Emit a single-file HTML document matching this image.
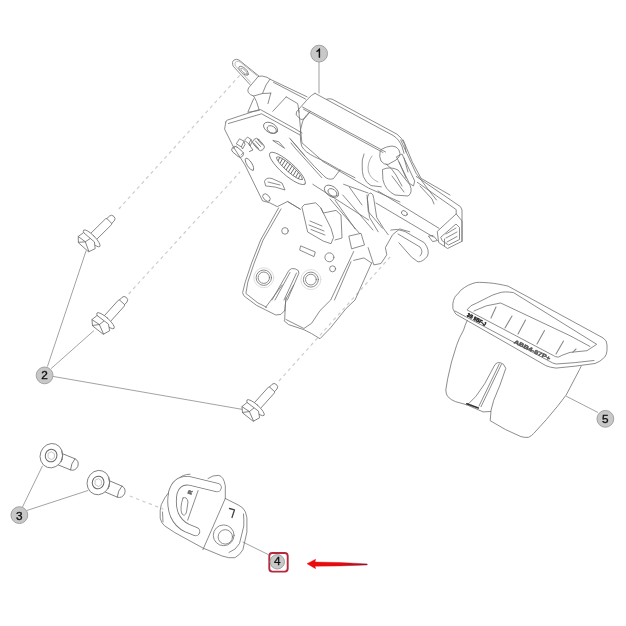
<!DOCTYPE html>
<html><head><meta charset="utf-8"><style>
html,body{margin:0;padding:0;background:#fff;width:626px;height:626px;overflow:hidden}
svg{display:block;will-change:transform}
.l{fill:none;stroke:#707070;stroke-width:0.8;stroke-linejoin:round;stroke-linecap:round}
.t{fill:none;stroke:#8a8a8a;stroke-width:0.6}
.ld{fill:none;stroke:#8c8c8c;stroke-width:0.8}
.d{fill:none;stroke:#cdcdcd;stroke-width:1.2;stroke-dasharray:3.4 3.4}
.lab{fill:#c8c8c8;stroke:#9a9a9a;stroke-width:0.9}
.n{font-family:"Liberation Sans",sans-serif;font-size:11.8px;fill:#111;stroke:#111;stroke-width:0.35;text-anchor:middle}
</style></head><body>
<svg width="626" height="626" viewBox="0 0 626 626">
<!-- dashed assembly lines -->
<path class="d" d="M118.8,209 L241,74"/>
<path class="d" d="M128.6,294 L240,172"/>
<path class="d" d="M279,381 L391,256"/>
<path class="d" d="M129.7,496 L163.5,509.2"/>

<!-- leaders -->
<path class="ld" d="M319,62 L319,93.6" style="stroke:#bbb;stroke-width:1.4"/>
<path class="ld" d="M47.4,366.6 L86.2,250.5"/>
<path class="ld" d="M51,368.7 L94,330.5"/>
<path class="ld" d="M53,376.4 L242.4,409.4"/>
<path class="ld" d="M22.4,507.2 L42.5,465.8"/>
<path class="ld" d="M26.8,510.5 L88.3,490.4"/>
<path class="ld" d="M242.6,541.9 L268.3,554.6"/>
<path class="ld" d="M598,412.5 L566.2,396.2"/>

<!-- ===== LATCH (1) ===== -->
<g class="l">
<!-- ear tab -->
<path d="M250,84.6 L233.2,66.2 Q231.5,62 234,60 Q236.5,58.5 239,60 L258.6,75.8"/>
<ellipse cx="243.6" cy="70.8" rx="6" ry="2.7" transform="rotate(42 243.6 70.8)"/>
<ellipse cx="244" cy="71.2" rx="4.2" ry="1.4" transform="rotate(42 244 71.2)" style="stroke:#999"/>
<path d="M250.5,82.3 L235.3,65.8 Q234,62.6 236.3,61.4 Q238.3,60.8 240.2,62 L256.8,75.6" style="stroke:#aaa"/>
<!-- upper bracket block -->
<path d="M258.4,76.3 Q262,75.3 267,77.3 L270,79.2 L307,96.8"/>
<path d="M258.4,76.3 L248.5,88 Q247.3,90.5 248.3,92.5 Q250,95 253.6,96 L262.5,93.5 L270.8,93.1"/>
<path d="M273.5,82.4 L305.5,99"/>
<path d="M270.8,93.1 L268,103.6 M262.5,93.5 L266,85 L270,79.2"/>
<path d="M253.6,96 L256.5,101.5 L259.3,110.4 L247.8,112.3 L253.6,98.8"/>
<path d="M286.2,96.9 L297.7,103.6 L299.1,112.2 M286.2,96.9 L272.8,111.3"/>
<!-- motor -->
<path d="M315,93.3 L380,128.5 L393,135.4 Q399,139 402.2,147 L404,153.3"/>
<path d="M326.8,99.1 Q329,98.4 332,99.1 L397,134.2 Q402,137.5 404.7,144.4 L406,152"/>
<path d="M315,93.3 L311.8,95.2 L308,98.7 L301,106.7 L296.5,111.8 L296.2,115 L301,119.5 L304.2,118.9 L310,111.8"/>
<path d="M302.5,107 L385.6,152"/>
<path d="M303.5,109.2 L383,152.5"/>
<path d="M380,152 Q379,157 381,161 Q384,165 388,164.5 L396,160 Q400,157 400,153.5 Q399.5,149 396,147 L392,146 Q386,146.5 382,149 Z"/>
<path d="M310,111.8 Q303,117 301.7,125 Q300,130 300.3,134.6 Q300.3,142 301.7,146.1 Q303.5,149.5 306.5,151.8 Q310,154.5 314.2,156.6 L326.6,162.4 L338.1,169.1 L355,177.7"/>
<path d="M289.5,138 L295,144.2 L304.6,155.7 L314.2,166.2 L323.8,175.8 Q328,180.5 333.4,178.7 L340,170"/>
<path d="M291,143 L295,148 L321.8,177.7"/>
<path d="M364,154 Q361.5,160 362.2,166 Q362,172 363.4,176.6 Q366,183 371,185.6 L381.3,186.8"/>
<path d="M372,156 Q367,163 368.3,171 Q370,178.5 378,182" style="stroke:#999"/>
<!-- wire bundle / plug -->
<path d="M396.8,156.6 L402,154 L414.7,181 L413.5,186 L409.6,183.5 Z"/>
<path d="M403.2,140 L412.2,161.7 L421,178.3 L450,195"/>
<path d="M400.7,140 L416,173.2 L427.5,188.6 L436.5,200"/>
<path d="M382.8,169.4 Q390,166 398,170 L410,185 Q413,193 408,196 L395,195 Q385,190 383,180 Z"/>
<path d="M386,164 Q392,168 396,175 L402,186 M392,176 L404,192"/>
<path d="M404,158 L408,172 M399,162 L406,178"/>
<!-- connector housing -->
<path d="M416.3,176.5 L460.5,206.7 L462,210 L462,241.3"/>
<path d="M417.3,182.3 L456.2,209.6 L456.2,213.9"/>
<path d="M378,191 L439,228.3"/>
<path d="M376,203 L433.2,236.9"/>
<path d="M437.5,231.2 L456.2,213.9 L462,221 L462,241.3 L447.6,248.5 L439,242.7 Z"/>
<path d="M441,237 L456,224 L459.5,227.5 L459.5,239.5 L448.5,245 L442.5,241 Z"/>
<path d="M446,234 L456,228 M446,238 L457,232 M447,242 L457,236.5 M444.5,239 L444.5,246"/>
<path d="M428.8,236 L433,235.5 L437.5,240.5 L433,241.5 Z"/>
<ellipse cx="404.4" cy="213.2" rx="3.2" ry="2.2" transform="rotate(30 404.4 213.2)"/>
<path d="M420,186 L432,199 L434,204"/>
<!-- hook -->
<path d="M390.8,230 Q397,228 405,231.5 L424.3,242.7 Q430,250 427.5,256 Q423,262 418,261.9 L411.5,257.1 L398.8,242.7"/>
<path d="M398,234 L420,247 Q424,252 420,256"/>
<!-- plate -->
<path d="M225.8,122.1 Q226,120.5 227.1,120.2 L257.8,110 L260.3,109.5 L293.6,128 L302,133"/>
<path d="M228.4,123.5 L261.6,113.8 L300,135"/>
<path d="M225.8,122.1 L224.6,129.2 L233.5,147.1 L245,165 L262.5,200.8 L269.7,202.8 L277.3,206.6 L287.6,201.5 L300.3,209.2"/>
<ellipse cx="270.6" cy="127.9" rx="7.7" ry="4.8" transform="rotate(30 270.6 127.9)"/>
<ellipse cx="271.8" cy="129.5" rx="5" ry="3.3" transform="rotate(30 271.8 129.5)"/>
<path d="M273.1,140.7 L284.6,148.3 L279,142 Z"/>
<rect x="-6.6" y="-3.3" width="13.2" height="6.6" rx="3.2" transform="translate(237.6,151.8) rotate(40)"/>
<path d="M233.5,148.5 L236,146 M241,155 L243.5,152.5" style="stroke:#888"/>
<path d="M236.5,143.5 L239.5,138.8 L244,141.2 L241.5,146.5 Z M241.5,146.5 L242.5,149 L245,144.5 L244,141.2"/>
<path d="M244.8,140 L247.5,137 L251,139.5 L249,143.5 Z M249,143.5 L250,146 L252,142 L251,139.5"/>
<rect x="-6.8" y="-3.6" width="13.6" height="7.2" rx="3.4" transform="translate(258.5,144.5) rotate(48)"/>
<path d="M253.5,143 L258.5,148.5 M255.5,141 L260.5,146.5 M257.5,139.5 L262.5,145" style="stroke:#666;stroke-width:0.9"/>
<path d="M249,144.5 L253,150 L249.5,151.5" style="stroke:#666"/>
<ellipse cx="249.5" cy="164.3" rx="7" ry="2.5" transform="rotate(58 249.5 164.3)"/>
<ellipse cx="287.5" cy="168.5" rx="23.4" ry="6.4" transform="rotate(41.5 287.5 168.5)"/>
<ellipse cx="289.5" cy="168.3" rx="17" ry="3.5" transform="rotate(41.5 289.5 168.3)"/>
<g transform="rotate(41.5 289.5 168.3)" style="stroke:#666;stroke-width:0.9">
<path d="M275,167 L276,170 M278,166 L279,170.5 M281,165.5 L282,171 M284,165 L285,171.5 M287,165 L288,171.5 M290,165 L291,171.5 M293,165 L294,171.5 M296,165.5 L297,171 M299,166 L300,170.5 M302,167 L303,170"/>
</g>
<path d="M264.6,181 Q266,177 272,178.5 L282,183 L285,190 L275,187 L266,186 Z"/>
<path d="M268,182 L280,185"/>
<ellipse cx="266.5" cy="197.6" rx="4.5" ry="2.8" transform="rotate(45 266.5 197.6)"/>
<ellipse cx="331.5" cy="191.3" rx="8" ry="5" transform="rotate(35 331.5 191.3)"/>
<ellipse cx="332.5" cy="192.5" rx="5" ry="3.2" transform="rotate(35 332.5 192.5)"/>
<path d="M298.7,110 L301.9,142.8 L322,160.4"/>
<path d="M290.7,139.6 L305,156"/>
<path d="M312.8,184.3 L368.6,220"/>
<path d="M322.6,161.3 L368.6,188.1 L400,202"/>
<path d="M343.6,184.3 L368.1,193 M349.4,187.2 L362,205"/>
<path d="M367.4,198.7 Q368,193 371,193 Q373.5,194 373.8,198.7 L376.7,217.4 L383.9,228.9 L388.2,234.7 M367.4,198.7 L369.5,217.4 L378.2,231.8"/>
<path d="M368.1,247.6 L373.8,264.9 L381,263.5 L386.8,254.8 L385.4,247.6 L392.6,234.7 L399.7,228.9 L409.8,231.8"/>
<path d="M335,200.1 L355.1,228.9"/>
<path d="M330,198.8 L359.4,233.3"/>
<path d="M342.8,195 L373,230"/>
<path d="M367,195 L368.3,211.6 L382.4,228.2"/>
<path d="M349.2,236 L361,233.3 L364.5,245 L352,248.7 Z"/>
<!-- lower housing -->
<path d="M278.6,207.9 L260.6,240 L251.6,263 L245.2,282.2 L242.6,292.7 Q243,296 246.4,297.8 L256.6,305.4 L265.6,309.9 L275.8,315 L280.9,314.4 L284.7,310.6"/>
<path d="M281,209 L263.1,240 L254.2,263 L247.8,282.2 L245.9,293.5 L257.9,302.9 L266.8,307.4"/>
<path d="M282.2,285 L265.6,307.4 M293.7,285 L286,299 L284.7,310.6"/>
<path d="M272,300 L288.7,270.7 Q291,267.5 295.1,268.8 Q299.5,270 298.9,273.2 L287.4,300"/>
<path d="M275,300 L290,272.5 M284,300 L296.5,273"/>
<circle cx="263.8" cy="277.7" r="7.7"/>
<circle cx="263.8" cy="277.7" r="5.7"/>
<circle cx="310.9" cy="279.6" r="7.5"/>
<circle cx="310.9" cy="279.6" r="5.4"/>
<circle cx="263.8" cy="277.7" r="10" style="stroke:#d5d5d5"/>
<circle cx="310.9" cy="279.6" r="10" style="stroke:#d5d5d5"/>
<path d="M286,297.8 L285.4,304.2 L284.7,319.5 L284.1,320.8 L288.6,324.6 L303.9,329.7 L311.6,333.6 L320,338.7 L330.5,327.9 L345.8,308.8 L355,300 L371.6,263"/>
<path d="M286,319.5 L303.9,328.5 L311.6,323.3 L320,310.6 L330.7,300 L353.7,251.5"/>
<path d="M334.5,300 L351,261.7"/>
<path d="M353.7,260.4 L363.9,257.9 L371.6,263"/>
<!-- square tab -->
<path d="M302.2,207 L304.2,204.7 L315.7,202.8 L320.8,207.9 L331,228.3 L333.6,237.3 L331,243.7 L323.3,241.1 L308,232.2 Z"/>
<path d="M320.8,207.9 L323.3,213 L336,210.4 L341,215 L342,238 L335,240"/>
<path d="M310,221 L322,226 M309,225 L324,231 M311,229.5 L325,235"/>
<path d="M300,250.2 L314,256.6 L315.3,252 L301,246 Z"/>
<circle cx="285" cy="230.9" r="3.3"/>
<circle cx="329.4" cy="257.3" r="4.5"/>
<circle cx="332.6" cy="268.8" r="3"/>
<path d="M287.6,201.5 L300.3,209.2"/>
</g>

<!-- ===== BOLTS (2) ===== -->
<g id="bolt" class="l">
</g>
<g class="l" transform="translate(89,241) rotate(-44.6)">
  <path d="M5,-4.2 L27.5,-4.2 L28.5,-3.4 L32,-3.4 Q35,-3.2 35,0 Q35,3.2 32,3.4 L28.5,3.4 L27.5,4.2 L5,4.2"/>
  <path d="M28.5,-3.4 L28.5,3.4"/>
  <ellipse cx="3.8" cy="0" rx="3.2" ry="11.5" fill="#fff"/>
  <path d="M-8.5,-6.5 L-4.5,-10.8 L2,-9.8 L3.2,4.5 L-1,9.8 L-7.5,7.5 Z" fill="#fff"/>
  <path d="M-4.5,-10.8 L-3.2,-2 L2.2,-1 M-3.2,-2 L-7.5,7.5 M-3.2,-2 L-8.5,-6.5"/>
</g>
<g class="l" transform="translate(103,323.5) rotate(-48)">
  <path d="M5,-4.2 L27.5,-4.2 L28.5,-3.4 L32,-3.4 Q35,-3.2 35,0 Q35,3.2 32,3.4 L28.5,3.4 L27.5,4.2 L5,4.2"/>
  <path d="M28.5,-3.4 L28.5,3.4"/>
  <ellipse cx="3.8" cy="0" rx="3.2" ry="11.5" fill="#fff"/>
  <path d="M-8.5,-6.5 L-4.5,-10.8 L2,-9.8 L3.2,4.5 L-1,9.8 L-7.5,7.5 Z" fill="#fff"/>
  <path d="M-4.5,-10.8 L-3.2,-2 L2.2,-1 M-3.2,-2 L-7.5,7.5 M-3.2,-2 L-8.5,-6.5"/>
</g>
<g class="l" transform="translate(253,410.5) rotate(-48)">
  <path d="M5,-4.2 L27.5,-4.2 L28.5,-3.4 L32,-3.4 Q35,-3.2 35,0 Q35,3.2 32,3.4 L28.5,3.4 L27.5,4.2 L5,4.2"/>
  <path d="M28.5,-3.4 L28.5,3.4"/>
  <ellipse cx="3.8" cy="0" rx="3.2" ry="11.5" fill="#fff"/>
  <path d="M-8.5,-6.5 L-4.5,-10.8 L2,-9.8 L3.2,4.5 L-1,9.8 L-7.5,7.5 Z" fill="#fff"/>
  <path d="M-4.5,-10.8 L-3.2,-2 L2.2,-1 M-3.2,-2 L-7.5,7.5 M-3.2,-2 L-8.5,-6.5"/>
</g>

<!-- ===== SCREWS (3) ===== -->
<g class="l">
  <g transform="translate(51.4,455.7) rotate(22)">
    <path d="M9,-6 L23,-6 Q28,-5.5 28.5,0 Q28,5.5 23,6 L8,6"/>
    <path d="M23,-6 Q21,0 23,6"/>
  </g>
  <ellipse cx="51.4" cy="455.7" rx="11.2" ry="12.3" transform="rotate(20 51.4 455.7)" fill="#fff"/>
  <path d="M61.7,450.7 Q63.9,455.7 61.4,461.7"/>
  <ellipse cx="51.1" cy="455.7" rx="5.8" ry="6.3" transform="rotate(20 51.4 455.7)" style="stroke:#666;stroke-width:1"/>
  <path d="M48.4,453.2 L51.4,451.7 L54.4,453.7 L54.4,457.7 L51.4,459.7 L48.4,457.7 Z" style="stroke:#aaa;stroke-width:0.7"/>
  <g transform="translate(98.4,482.6) rotate(23)">
    <path d="M9,-6 L23,-6 Q28,-5.5 28.5,0 Q28,5.5 23,6 L8,6"/>
    <path d="M23,-6 Q21,0 23,6"/>
  </g>
  <ellipse cx="98.4" cy="482.6" rx="11.2" ry="12.3" transform="rotate(20 98.4 482.6)" fill="#fff"/>
  <path d="M108.7,477.6 Q110.9,482.6 108.4,488.6"/>
  <ellipse cx="98.10000000000001" cy="482.6" rx="5.8" ry="6.3" transform="rotate(20 98.4 482.6)" style="stroke:#666;stroke-width:1"/>
  <path d="M95.4,480.1 L98.4,478.6 L101.4,480.6 L101.4,484.6 L98.4,486.6 L95.4,484.6 Z" style="stroke:#aaa;stroke-width:0.7"/>
</g>

<!-- ===== STRIKER (4) ===== -->
<g class="l">
  <path d="M190,474.2 Q182,474.5 178.5,479 L164.7,498 Q160.2,505 160.2,510.3 L160.2,518.1 Q161,523 164.7,525.9 L174.8,532.6 L202.9,548 L222.1,556 Q229,558.5 234.9,557.7 Q240,555 242.9,549.7 L246.9,532.1 L246.9,517.7 Q246,511 242.9,508.1 Q239,505 234.9,503.3 L225.3,498.5"/>
  <path d="M243.5,514 Q244,520 243.8,526 L239.5,543.5 Q236,550 229,552.5"/>
  <path d="M162.5,512 L163,522"/>
  <path d="M208,478.5 Q213,474.8 218.9,475.4 Q223.7,476.5 225.3,485.8 L225.3,498.5"/>
  <path d="M217,487.5 L189,480.8 Q177,479.5 173,492 Q170.5,505 174.5,515 Q178.5,524 187,528 L195.5,531.5" style="stroke:#777;stroke-width:9.4;stroke-linecap:round"/>
  <path d="M217,487.5 L189,480.8 Q177,479.5 173,492 Q170.5,505 174.5,515 Q178.5,524 187,528 L195.5,531.5" style="stroke:#fff;stroke-width:7.7;stroke-linecap:round"/>
  <path d="M198.1,490.6 L187.7,520.1"/>
  <path d="M225.3,498.5 L202.9,549.7"/>
  <path d="M183,498 Q187,496 188,502 L186.5,512 Q185,517 182,514 Q179.5,508 183,498 Z"/>
  <circle cx="223.7" cy="535.3" r="10.4"/>
  <circle cx="225.3" cy="536.9" r="7.2"/>
  <path d="M229.5,508.5 L234.5,509.8 L232,517.5" style="stroke:#444;stroke-width:1.3"/>
  <text x="0" y="0" font-family="Liberation Sans, sans-serif" font-size="5.5" font-weight="bold" fill="#444" transform="translate(191.2,494.8) rotate(-72)">R</text>
</g>

<!-- ===== HANDLE (5) ===== -->
<g class="l">
  <path d="M454.7,312.5 Q452,309 452.8,304 Q454,296 457.6,294.3 Q460,290 464.3,287.6 Q468,285 473,283.3 Q476,282.3 479.6,282.3 L488.3,282.8 Q494,283.2 498.8,284.2 Q503,285 508,286.1 L603,337.9 Q607.3,340.5 607,345 L607,350.7 Q606.5,355 604.7,357.1 Q600,362 595,363.5 Q575,366.5 556,368.1 Q550,367.5 545.8,365.6 L456.5,314.5 Z"/>
  <path d="M455,311 L549,361 Q553,363.5 556,364 Q575,363 594,360.5"/>
  <path d="M467.2,309.6 Q470,305 476.8,303 L488.3,297.2 Q493,294.5 497.9,293.3 Q501,292 505.5,291.9 Q510,292 513.5,292.6 L596.7,344.3 L587,350.7 L570,352.4 Q562,355 558.3,357.1 Q555,357 553.7,355.8 Z"/>
  <path d="M474,311 L486.4,305.8 L500.7,303 L570,335.7 L590,346.5"/>
  <path d="M496,307 L491,318 M512,316 L505,328 M525.5,320 L518,334 M544.5,330.5 L537,344 M563.5,341 L556,354 M576,349 L572.7,352.3" style="stroke:#8a8a8a;stroke-width:1.1"/>
  <path d="M467.2,320.5 Q465,325 463.6,330 Q459,338 456.6,345.3 L451.5,362 L447.7,378.6 L445.8,390 Q446,394.5 447.7,396.5 Q451,400 455.3,401.6 L466.8,404.8 L483.1,411.9 L490.5,411.5"/>
  <path d="M466.8,404.8 L469.4,402.8 L475.8,396.5 L484.7,383.7 L495,364.5 Q497,362 500,362.6 Q503.9,363 505.8,368.3 L500,385 L493.7,400.3 L491.1,410 L490.2,420.7 L505.6,429.6 L520.9,436.6 Q525,437.8 528.6,437.3 Q531.5,436 533.7,433.5 L546.5,419.4 L557.3,406.5 L566.2,395 L579.6,369.4 L581,366.5"/>
  <path d="M501.3,364.5 L481,406.7 M499.3,364 L479,406"/>
  <path d="M466.8,403.8 L478.3,408" style="stroke:#333;stroke-width:1.6"/>
</g>
<g font-family="Liberation Sans, sans-serif" font-weight="bold">
  <text x="0" y="0" font-size="5.2" fill="#222" stroke="#222" stroke-width="0.45" textLength="21" lengthAdjust="spacingAndGlyphs" transform="translate(466.5,316) rotate(28.4)">3S 9BF-J</text>
  <text x="0" y="0" font-size="5.6" fill="#555" stroke="#555" stroke-width="0.4" textLength="40" lengthAdjust="spacingAndGlyphs" transform="translate(513.5,343) rotate(26)">ABB4-87P+</text>
</g>

<!-- labels -->
<circle class="lab" cx="319.15" cy="53.6" r="8.4"/><path d="M316.5,51.6 Q318.6,50.6 319.4,49 L319.4,57.7" fill="none" stroke="#111" stroke-width="1.45" stroke-linejoin="round"/>
<circle class="lab" cx="44.6" cy="375.4" r="8.4"/><text class="n" x="44.6" y="379.4">2</text>
<circle class="lab" cx="19.35" cy="515.1" r="8.4"/><text class="n" x="19.35" y="519.7">3</text>
<rect x="269.3" y="553" width="18.4" height="18.6" rx="3" ry="3" fill="none" stroke="#b42a3c" stroke-width="1.9"/>
<circle class="lab" cx="277.3" cy="561.8" r="7.2"/><text class="n" x="277.4" y="564.9">4</text>
<circle class="lab" cx="605.35" cy="418.85" r="8.4"/><text class="n" x="605.35" y="423.2">5</text>

<!-- red arrow -->
<defs><linearGradient id="ag" x1="307" y1="0" x2="368" y2="0" gradientUnits="userSpaceOnUse"><stop offset="0" stop-color="#ee0a0a"/><stop offset="0.55" stop-color="#e00c12"/><stop offset="1" stop-color="#8a1424"/></linearGradient></defs>
<path d="M307,563.7 L315.6,559.2 L315,562 L340,562.5 L367.2,563.9 L367.2,564.9 L340,565.9 L315,566.2 L315.6,568.7 Z" fill="url(#ag)" stroke="url(#ag)" stroke-width="0.4" stroke-linejoin="round"/>
</svg>
</body></html>
